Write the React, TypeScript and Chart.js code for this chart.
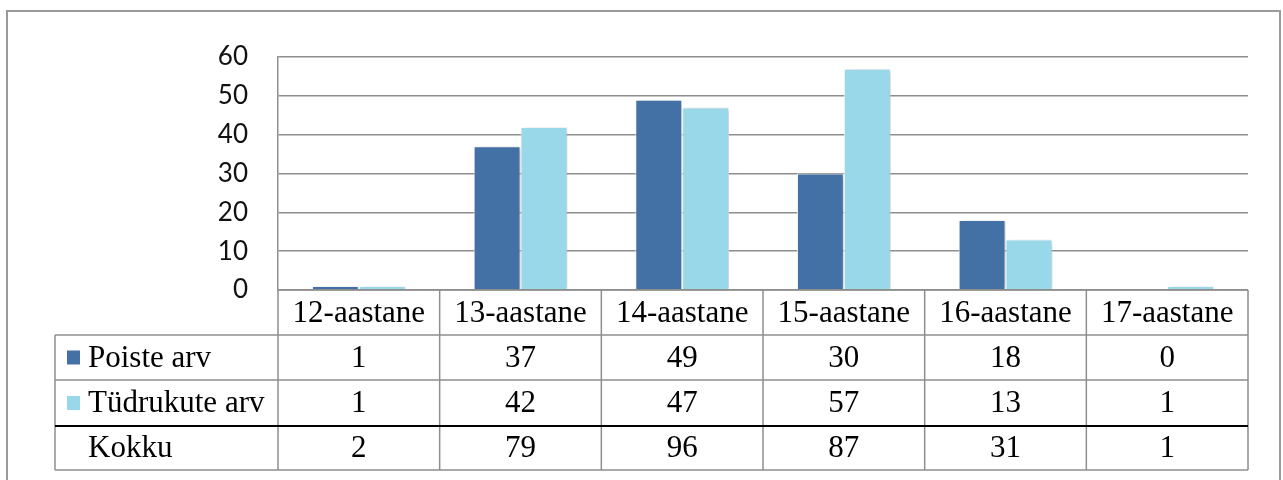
import React, { useEffect, useRef } from 'react';
import { Chart, registerables } from 'chart.js';

Chart.register(...registerables);

const categories = ['12-aastane', '13-aastane', '14-aastane', '15-aastane', '16-aastane', '17-aastane'];
const boys = [1, 37, 49, 30, 18, 0];
const girls = [1, 42, 47, 57, 13, 1];
const totals = [2, 79, 96, 87, 31, 1];
const seriesNames = ['Poiste arv', 'Tüdrukute arv'];
const totalLabel = 'Kokku';
const seriesColors = ['#4471A5', '#98D8E9'];

const W = 1283;
const H = 480;
const TABLE_FONT = "31px 'Liberation Serif', 'Times New Roman', serif";
const GRID = '#8e8e8e';

const framePlugin = {
  id: 'frame',
  beforeDraw(chart: any) {
    const ctx = chart.ctx;
    ctx.save();
    ctx.fillStyle = '#ffffff';
    ctx.fillRect(0, 0, W, H);
    ctx.strokeStyle = '#9a9a9a';
    ctx.lineWidth = 2;
    ctx.strokeRect(7, 11, 1273, 490);
    ctx.restore();
  },
};

const shadowPlugin = {
  id: 'barShadow',
  beforeDatasetsDraw(chart: any) {
    const ctx = chart.ctx;
    ctx.save();
    ctx.shadowColor = 'rgba(0,0,0,0.25)';
    ctx.shadowBlur = 5;
    ctx.shadowOffsetX = 2;
    ctx.shadowOffsetY = 1;
  },
  afterDatasetsDraw(chart: any) {
    chart.ctx.restore();
  },
};

const tablePlugin = {
  id: 'dataTable',
  afterDraw(chart: any) {
    const { ctx, chartArea } = chart;
    const x = chart.scales.x;
    const n = categories.length;
    const step = x.getPixelForValue(1) - x.getPixelForValue(0);
    const colL = (i: number) => x.getPixelForValue(i) - step / 2;
    const left = chartArea.left;
    const right = colL(n);
    const tableLeft = 55;
    const yHead = chartArea.bottom;
    const rows = [yHead, yHead + 45, yHead + 90, yHead + 136, yHead + 180];

    ctx.save();
    ctx.lineWidth = 1.5;
    const line = (x1: number, y1: number, x2: number, y2: number, color = GRID) => {
      ctx.strokeStyle = color;
      ctx.beginPath();
      ctx.moveTo(x1, y1);
      ctx.lineTo(x2, y2);
      ctx.stroke();
    };
    line(left, rows[0], right, rows[0]);
    line(tableLeft, rows[1], right, rows[1]);
    line(tableLeft, rows[2], right, rows[2]);
    line(tableLeft, rows[4], right, rows[4]);
    line(tableLeft, rows[1], tableLeft, rows[4]);
    for (let i = 0; i <= n; i++) {
      line(colL(i), rows[0], colL(i), rows[4]);
    }
    ctx.lineWidth = 1.8;
    line(tableLeft, rows[3], right, rows[3], '#000000');

    ctx.font = TABLE_FONT;
    ctx.fillStyle = '#000000';
    ctx.textAlign = 'center';
    ctx.textBaseline = 'middle';
    const mid = (r: number) => (rows[r] + rows[r + 1]) / 2 + 1;
    categories.forEach((c, i) => ctx.fillText(c, x.getPixelForValue(i), mid(0)));
    boys.forEach((v, i) => ctx.fillText(String(v), x.getPixelForValue(i), mid(1)));
    girls.forEach((v, i) => ctx.fillText(String(v), x.getPixelForValue(i), mid(2)));
    totals.forEach((v, i) => ctx.fillText(String(v), x.getPixelForValue(i), mid(3)));

    ctx.textAlign = 'left';
    const labels = [seriesNames[0], seriesNames[1], totalLabel];
    labels.forEach((l, r) => {
      const cy = mid(r + 1);
      if (r < 2) {
        ctx.fillStyle = seriesColors[r];
        ctx.fillRect(67, cy - 8, 13, 14);
      }
      ctx.fillStyle = '#000000';
      ctx.fillText(l, 88, cy);
    });
    ctx.restore();
  },
};

export default function App() {
  const ref = useRef<HTMLCanvasElement>(null);

  useEffect(() => {
    if (!ref.current) return;
    const chart = new Chart(ref.current, {
      type: 'bar',
      data: {
        labels: categories,
        datasets: [
          {
            label: seriesNames[0],
            data: boys,
            backgroundColor: seriesColors[0],
            borderColor: 'rgba(255,255,255,0.9)',
            borderWidth: 1,
            categoryPercentage: 0.58,
            barPercentage: 1,
          },
          {
            label: seriesNames[1],
            data: girls,
            backgroundColor: seriesColors[1],
            borderColor: 'rgba(255,255,255,0.9)',
            borderWidth: 1,
            categoryPercentage: 0.58,
            barPercentage: 1,
          },
        ],
      },
      options: {
        responsive: false,
        animation: false,
        layout: { padding: { left: 0, top: 57, right: 35, bottom: 0 } },
        plugins: { legend: { display: false }, tooltip: { enabled: false } },
        scales: {
          x: {
            grid: { display: false },
            border: { display: false },
            ticks: { display: false },
            afterFit: (s: any) => {
              s.height = 190;
            },
          },
          y: {
            min: 0,
            max: 60,
            ticks: {
              stepSize: 10,
              padding: 30,
              color: '#111111',
              font: { family: "Lato, 'Liberation Sans', sans-serif", size: 26 },
            },
            grid: { color: GRID, lineWidth: 1.5, drawTicks: false },
            border: { display: true, color: GRID, width: 1.5 },
            afterFit: (s: any) => {
              s.width = 278;
            },
          },
        },
      },
      plugins: [framePlugin, shadowPlugin, tablePlugin],
    });
    return () => chart.destroy();
  }, []);

  return (
    <div style={{ position: 'fixed', left: 0, top: 0, width: W, height: H }}>
      <canvas ref={ref} width={W} height={H} style={{ display: 'block' }} />
    </div>
  );
}
